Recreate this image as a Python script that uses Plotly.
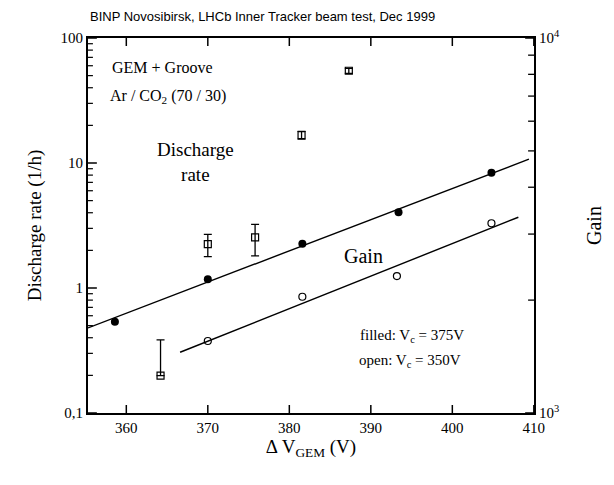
import plotly.graph_objects as go

# ---- data ----
# Discharge rate (left axis, 1/h), open squares with error bars
dis_x = [364.2, 370.0, 375.8, 381.5, 387.3]
dis_y = [0.199, 2.24, 2.54, 16.7, 54.7]
dis_err_plus = [0.185, 0.45, 0.69, 1.2, 2.5]
dis_err_minus = [0.0, 0.46, 0.73, 1.2, 2.5]

# Gain, filled circles (Vc = 375 V), right axis
gain_f_x = [358.6, 370.0, 381.6, 393.4, 404.8]
gain_f_y = [1750, 2274, 2827, 3428, 4375]
fit_f_x = [355.3, 409.4]
fit_f_y = [1686, 4753]

# Gain, open circles (Vc = 350 V), right axis
gain_o_x = [370.0, 381.6, 393.2, 404.8]
gain_o_y = [1556, 2042, 2318, 3206]
fit_o_x = [366.6, 408.1]
fit_o_y = [1452, 3327]

# ticks
left_tickvals = [0.1, 1, 10, 100]
left_ticktext = ["0,1", "1", "10", "100"]
left_minor = [0.2, 0.3, 0.4, 0.5, 0.6, 0.7, 0.8, 0.9,
              2, 3, 4, 5, 6, 7, 8, 9,
              20, 30, 40, 50, 60, 70, 80, 90]
right_tickvals = [1000, 10000]
right_ticktext = ["10<sup>3</sup>", "10<sup>4</sup>"]
right_minor = [2000, 3000, 4000, 5000, 6000, 7000, 8000, 9000]
x_tickvals = [360, 370, 380, 390, 400, 410]

XR = [355.3, 410.02]
SERIF = "Liberation Serif, Times New Roman, serif"

fig = go.Figure()

fig.add_trace(go.Scatter(
    x=fit_f_x, y=fit_f_y, mode="lines", yaxis="y2",
    line=dict(color="black", width=1.4), showlegend=False))
fig.add_trace(go.Scatter(
    x=fit_o_x, y=fit_o_y, mode="lines", yaxis="y2",
    line=dict(color="black", width=1.4), showlegend=False))
fig.add_trace(go.Scatter(
    x=gain_f_x, y=gain_f_y, mode="markers", yaxis="y2",
    marker=dict(symbol="circle", size=8, color="black"), showlegend=False))
fig.add_trace(go.Scatter(
    x=gain_o_x, y=gain_o_y, mode="markers", yaxis="y2",
    marker=dict(symbol="circle-open", size=7, color="black",
                line=dict(width=1.2)), showlegend=False))
fig.add_trace(go.Scatter(
    x=dis_x, y=dis_y, mode="markers", yaxis="y",
    marker=dict(symbol="square-open", size=7, color="black",
                line=dict(width=1.2)),
    error_y=dict(type="data", symmetric=False, array=dis_err_plus,
                 arrayminus=dis_err_minus, color="black",
                 thickness=1.3, width=4),
    showlegend=False))

# inward tick marks, built from the tick lists (fractions of the plot area)
XT = 8 / 375      # 8 px tick on the x axes
YT = 9 / 453      # 9 px major tick on the y axes
YTm = 5 / 453     # 5 px minor tick
shapes = []
tick_line = dict(color="black", width=1.5)
for v in x_tickvals:
    shapes.append(dict(type="line", xref="x", yref="paper", x0=v, x1=v,
                       y0=0, y1=XT, line=tick_line, layer="above"))
    shapes.append(dict(type="line", xref="x", yref="paper", x0=v, x1=v,
                       y0=1, y1=1 - XT, line=tick_line, layer="above"))
for v in left_tickvals:
    shapes.append(dict(type="line", xref="paper", yref="y", x0=0, x1=YT,
                       y0=v, y1=v, line=tick_line, layer="above"))
for v in left_minor:
    shapes.append(dict(type="line", xref="paper", yref="y", x0=0, x1=YTm,
                       y0=v, y1=v, line=dict(color="black", width=1.2),
                       layer="above"))
for v in right_tickvals:
    shapes.append(dict(type="line", xref="paper", yref="y2", x0=1,
                       x1=1 - YT, y0=v, y1=v, line=tick_line,
                       layer="above"))
for v in right_minor:
    shapes.append(dict(type="line", xref="paper", yref="y2", x0=1,
                       x1=1 - 6 / 453, y0=v, y1=v,
                       line=dict(color="black", width=1.3), layer="above"))

fig.update_layout(
    width=614, height=485,
    margin=dict(l=88, r=73, t=38, b=72),
    paper_bgcolor="white", plot_bgcolor="white",
    font=dict(family=SERIF, size=15, color="black"),
    shapes=shapes,
    xaxis=dict(range=XR, tickvals=x_tickvals, ticks="",
               showline=True, linewidth=2, linecolor="black",
               mirror=True, showgrid=False, zeroline=False,
               tickfont=dict(family=SERIF, size=15),
               title=dict(text="\u0394 V<sub>GEM</sub> (V)",
                          font=dict(family=SERIF, size=19), standoff=4)),
    yaxis=dict(type="log", range=[-1, 2], tickmode="array",
               tickvals=left_tickvals, ticktext=left_ticktext, ticks="",
               showline=True, linewidth=2, linecolor="black",
               showgrid=False, zeroline=False,
               tickfont=dict(family=SERIF, size=15),
               title=dict(text="Discharge rate (1/h)",
                          font=dict(family=SERIF, size=19), standoff=14)),
    yaxis2=dict(type="log", range=[3, 4], overlaying="y", side="right",
                tickmode="array", tickvals=right_tickvals,
                ticktext=right_ticktext, ticks="",
                showline=True, linewidth=2, linecolor="black",
                showgrid=False, zeroline=False,
                tickfont=dict(family=SERIF, size=15),
                title=dict(text="Gain", font=dict(family=SERIF, size=20),
                           standoff=28)),
)

ann = [
    dict(text="BINP Novosibirsk, LHCb Inner Tracker beam test, Dec 1999",
         x=0.0, y=1.0, xref="paper", yref="paper", xanchor="left",
         yanchor="bottom", yshift=12, showarrow=False,
         font=dict(family="Liberation Sans, Arial, sans-serif", size=13)),
    dict(text="GEM + Groove", x=0.05, y=0.92, xref="paper", yref="paper",
         xanchor="left", yanchor="middle", showarrow=False,
         font=dict(family=SERIF, size=16)),
    dict(text="Ar / CO<sub>2</sub> (70 / 30)", x=0.045, y=0.845,
         xref="paper", yref="paper", xanchor="left", yanchor="middle",
         showarrow=False, font=dict(family=SERIF, size=16)),
    dict(text="Discharge<br>rate", x=0.24, y=0.67, xref="paper",
         yref="paper", xanchor="center", yanchor="middle",
         showarrow=False, align="center",
         font=dict(family=SERIF, size=19)),
    dict(text="Gain", x=0.618, y=0.42, xref="paper", yref="paper",
         xanchor="center", yanchor="middle", showarrow=False,
         font=dict(family=SERIF, size=20)),
    dict(text="filled: V<sub>c</sub> = 375V", x=0.605, y=0.205,
         xref="paper", yref="paper", xanchor="left", yanchor="middle",
         showarrow=False, font=dict(family=SERIF, size=15)),
    dict(text="open: V<sub>c</sub> = 350V", x=0.603, y=0.14,
         xref="paper", yref="paper", xanchor="left", yanchor="middle",
         showarrow=False, font=dict(family=SERIF, size=15)),
]
fig.update_layout(annotations=ann)

fig.write_html("out.html")
